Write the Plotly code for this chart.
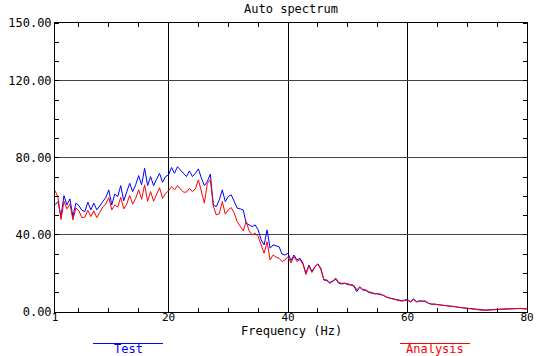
import numpy as np
import plotly.graph_objects as go

# Frequency grid (Hz), 0.5 Hz resolution
freq = np.arange(1.0, 80.01, 0.5)

# Auto spectrum, measured response
test = [
    55.6, 57.3, 49.5, 60.4, 55.6, 58.7, 49.5, 56.5, 55.2, 52.8,
    52.1, 57.0, 53.0, 56.5, 53.0, 55.4, 57.3, 59.4, 63.4, 55.6,
    61.2, 59.9, 65.6, 57.7, 62.5, 66.8, 62.5, 66.0, 70.8, 66.0,
    74.6, 65.6, 70.3, 65.6, 68.9, 72.0, 67.3, 70.3, 71.1, 75.0,
    72.0, 75.4, 73.7, 72.0, 70.3, 73.2, 70.3, 72.0, 74.3, 69.5,
    65.6, 67.7, 71.6, 55.5, 54.7, 58.2, 63.4, 57.3, 59.9, 60.8,
    57.3, 53.9, 53.5, 53.0, 46.1, 45.2, 44.3, 45.2, 42.6, 37.5,
    34.8, 42.6, 33.1, 34.8, 34.3, 33.9, 30.0, 29.6, 30.5, 26.7,
    29.6, 27.0, 27.9, 25.3, 20.1, 24.4, 21.0, 23.6, 25.0, 22.7,
    16.6, 16.3, 14.9, 15.8, 17.0, 14.9, 14.5, 14.9, 14.2, 14.0,
    13.5, 10.6, 12.8, 11.4, 11.2, 10.2, 9.6, 9.4, 9.4, 9.1,
    8.6, 7.6, 7.3, 6.9, 6.6, 6.1, 5.9, 6.2, 6.4, 5.4,
    6.8, 5.4, 5.8, 5.7, 5.7, 4.6, 4.0, 4.1, 4.0, 3.6,
    3.4, 3.3, 3.3, 3.0, 2.8, 2.4, 2.2, 2.1, 1.9, 1.7,
    1.5, 1.3, 1.1, 1.1, 1.0, 1.1, 1.1, 1.2, 1.4, 1.5,
    1.6, 1.6, 1.7, 1.6, 1.8, 2.0, 1.8, 1.6, 1.7,
]

# Auto spectrum, model prediction
analysis = [
    63.0, 59.5, 48.0, 57.5, 53.5, 56.0, 47.8, 54.0, 52.5, 49.0,
    49.2, 52.8, 49.5, 52.5, 49.0, 51.5, 54.5, 56.0, 59.4, 53.0,
    55.5, 54.5, 59.5, 53.5, 56.0, 60.5, 56.0, 59.0, 63.5, 58.5,
    66.0, 57.5, 62.5, 57.5, 61.0, 64.5, 59.0, 61.5, 62.9, 65.1,
    63.4, 65.6, 63.9, 62.2, 62.2, 64.2, 62.5, 64.0, 68.6, 63.0,
    56.5, 66.8, 68.6, 55.0, 50.4, 51.0, 57.3, 50.8, 53.0, 54.2,
    51.3, 46.9, 44.5, 42.1, 46.9, 42.1, 40.0, 40.9, 39.2, 34.8,
    30.5, 36.5, 27.0, 29.6, 28.5, 27.9, 26.2, 27.0, 28.7, 25.5,
    28.8, 26.2, 27.2, 24.8, 19.5, 24.0, 20.5, 23.2, 24.8, 22.0,
    16.9, 16.7, 15.3, 16.2, 17.6, 15.3, 14.9, 15.0, 14.6, 14.3,
    13.9, 11.5, 13.1, 11.8, 11.5, 10.6, 10.0, 9.6, 9.5, 9.3,
    8.5, 7.7, 7.2, 6.8, 6.4, 6.0, 5.6, 5.9, 6.1, 5.2,
    6.5, 5.2, 5.6, 5.5, 5.4, 4.4, 4.0, 4.0, 3.9, 3.6,
    3.5, 3.3, 3.1, 2.9, 2.7, 2.3, 2.0, 1.9, 1.6, 1.4,
    1.2, 1.0, 0.9, 0.9, 0.9, 1.0, 1.1, 1.2, 1.4, 1.5,
    1.6, 1.7, 1.8, 1.9, 1.9, 2.0, 1.9, 1.7, 1.6,
]

x_ticks = [1, 20, 40, 60, 80]
y_ticks = [0, 40, 80, 120, 150]

BLUE = "#0000ff"
RED = "#ff0000"
FONT = "DejaVu Sans Mono"
FS = 12

fig = go.Figure()
fig.add_trace(go.Scatter(x=freq, y=test, mode="lines", name="Test",
                         line=dict(color=BLUE, width=1)))
fig.add_trace(go.Scatter(x=freq, y=analysis, mode="lines", name="Analysis",
                         line=dict(color=RED, width=1)))

fig.update_layout(
    width=537, height=356,
    margin=dict(l=55, r=10, t=23, b=44, autoexpand=False),
    paper_bgcolor="white", plot_bgcolor="white",
    showlegend=False,
    font=dict(family=FONT, size=FS, color="black"),
    title=dict(text="Auto spectrum", x=0.5, xref="paper", xanchor="center",
               y=1 - 9 / 356, yref="container", yanchor="middle",
               font=dict(family=FONT, size=FS, color="black")),
)

fig.update_xaxes(
    range=[1, 80], tickmode="array", tickvals=x_ticks,
    ticktext=[str(v) for v in x_ticks], automargin=False,
    tickfont=dict(family=FONT, size=11, color="black"),
    ticklabelstandoff=-5,
    showgrid=True, gridcolor="black", gridwidth=1,
    showline=True, linecolor="black", linewidth=1, mirror="ticks",
    ticks="", zeroline=False,
    minor=dict(tick0=0, dtick=5, ticks="inside", ticklen=4,
               tickcolor="black", showgrid=False),
)
fig.update_yaxes(
    range=[0, 150], tickmode="array", tickvals=y_ticks,
    ticktext=[f"{v:.2f}" for v in y_ticks], automargin=False,
    showgrid=True, gridcolor="#444444", gridwidth=1,
    showline=True, linecolor="black", linewidth=1, mirror="ticks",
    ticks="", zeroline=False,
    minor=dict(tick0=0, dtick=10, ticks="inside", ticklen=4,
               tickcolor="black", showgrid=False),
)

# X-axis caption
fig.add_annotation(text="Frequency (Hz)", x=0.5, y=(312 - 331) / 289,
                   xref="paper", yref="paper", showarrow=False,
                   xanchor="center", yanchor="middle",
                   font=dict(family=FONT, size=FS, color="black"))

# Legend keys under the chart: a short line with the series name beneath
legend_items = [("Test", BLUE, 93, 163), ("Analysis", RED, 400, 470)]
for label, color, x0, x1 in legend_items:
    px0 = (x0 - 55) / 472
    px1 = (x1 - 55) / 472
    fig.add_shape(type="line", xref="paper", yref="paper",
                  x0=px0, x1=px1, y0=(312 - 343.5) / 289, y1=(312 - 343.5) / 289,
                  line=dict(color=color, width=1))
    fig.add_annotation(text=label, x=(px0 + px1) / 2, y=(312 - 349.5) / 289,
                       xref="paper", yref="paper", showarrow=False,
                       xanchor="center", yanchor="middle",
                       font=dict(family=FONT, size=FS, color=color))

fig.write_html("out.html")
